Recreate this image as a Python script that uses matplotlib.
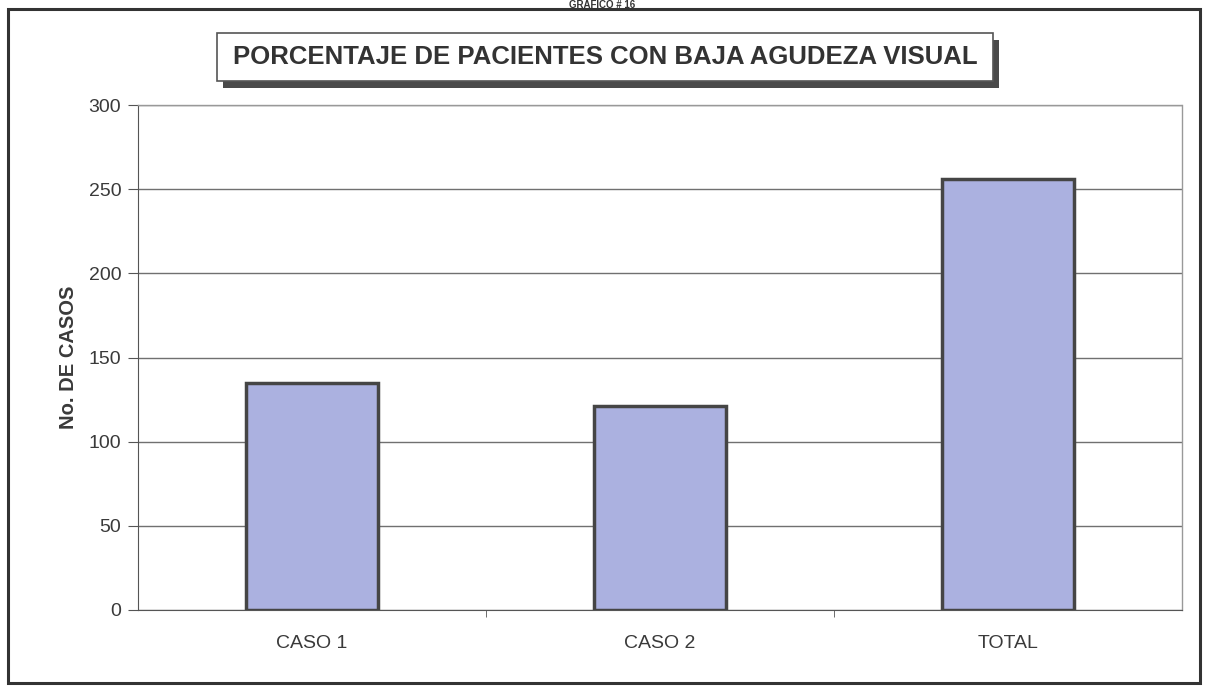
import matplotlib.pyplot as plt
from matplotlib.patches import Rectangle

# data
categorias = ['CASO 1', 'CASO 2', 'TOTAL']
casos = [135, 121, 256]
y_ticks = [0, 50, 100, 150, 200, 250, 300]

plt.rcParams['font.family'] = ['Liberation Sans', 'DejaVu Sans']

fig = plt.figure(figsize=(12.05, 6.88), dpi=100)
W, H = 1205.0, 688.0

# outer frame of the page
fig.patches.append(Rectangle((8/W, 5/H), 1192/W, 674/H, transform=fig.transFigure,
                             fill=False, edgecolor='#333333', linewidth=2.2))

# heading squeezed above the frame (cut in the scan)
fig.text(0.5, 1 - 0.5/H, 'GRAFICO # 16', ha='center', va='top',
         fontsize=7, fontweight='bold', color='#333333')

# title box with shadow
bx, by, bw, bh = 217/W, 1 - 81/H, 776/W, 48/H
fig.patches.append(Rectangle((bx + 6/W, by - 7/H), bw, bh, transform=fig.transFigure,
                             facecolor='#4a4a4a', edgecolor='none'))
fig.patches.append(Rectangle((bx, by), bw, bh, transform=fig.transFigure,
                             facecolor='white', edgecolor='#555555', linewidth=1.2))
fig.text(bx + bw/2, by + bh/2, 'PORCENTAJE DE PACIENTES CON BAJA AGUDEZA VISUAL',
         ha='center', va='center', fontsize=18.5, fontweight='bold', color='#333333')

ax = fig.add_axes([138/W, 1 - 610/H, 1044/W, 505/H])
x = range(len(categorias))
ax.bar(x, casos, width=0.38, color='#abb1e0', edgecolor='#454545', linewidth=2.5, zorder=3)

ax.set_ylim(0, 300)
ax.set_xlim(-0.5, len(categorias) - 0.5)
ax.set_yticks(y_ticks)
ax.yaxis.grid(True, color='#707070', linewidth=1.0, zorder=0)
ax.set_axisbelow(True)

ax.set_xticks(x)
ax.set_xticklabels(categorias, fontsize=14, color='#3a3a3a')
ax.set_xticks([0.5, 1.5], minor=True)
ax.tick_params(axis='x', which='major', length=0, pad=18)
ax.tick_params(axis='x', which='minor', length=5, direction='out', color='#555555')
ax.tick_params(axis='y', length=7, direction='out', labelsize=14, color='#555555',
               labelcolor='#3a3a3a', pad=5)

for s in ['top', 'right']:
    ax.spines[s].set_color('#999999')
    ax.spines[s].set_linewidth(1.0)
ax.spines['top'].set_linestyle((0, (1, 1)))
ax.spines['left'].set_color('#555555')
ax.spines['bottom'].set_color('#555555')
ax.spines['bottom'].set_linestyle((0, (2, 1)))

ax.set_ylabel('No. DE CASOS', fontsize=14.5, fontweight='bold', color='#3a3a3a', labelpad=8)

fig.savefig('out.png', dpi=100)
